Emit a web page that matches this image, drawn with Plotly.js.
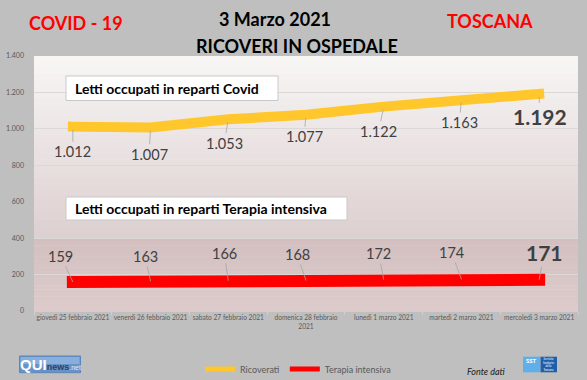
<!DOCTYPE html>
<html>
<head>
<meta charset="utf-8">
<script src="https://cdn.plot.ly/plotly-3.0.1.min.js"></script>
<style>
  html, body { margin: 0; padding: 0; background: #bfbfbf; }
  #chart { width: 587px; height: 380px; }
</style>
</head>
<body>
<div id="chart"></div>
<script>
// ---------- DATA ----------
const categories = ['giovedì 25 febbraio 2021', 'venerdì 26 febbraio 2021', 'sabato 27 febbraio 2021',
  'domenica 28 febbraio 2021', 'lunedì 1 marzo 2021', 'martedì 2 marzo 2021', 'mercoledì 3 marzo 2021'];
const tickLabels = ['giovedì 25 febbraio 2021', 'venerdì 26 febbraio 2021', 'sabato 27 febbraio 2021',
  'domenica 28 febbraio<br>2021', 'lunedì 1 marzo 2021', 'martedì 2 marzo 2021', 'mercoledì 3 marzo 2021'];
const ricoverati = [1012, 1007, 1053, 1077, 1122, 1163, 1192];
const terapiaIntensiva = [159, 163, 166, 168, 172, 174, 171];
const seriesNames = ['Ricoverati', 'Terapia intensiva'];
const yTickValues = [0, 200, 400, 600, 800, 1000, 1200, 1400];

// ---------- LAYOUT HELPERS (positions / styles) ----------
const L = 34, R = 578, T = 56, B = 311;
const fx = p => (p - L) / (R - L);
const fy = p => (B - p) / (B - T);
const fmt = v => String(v).replace(/\B(?=(\d{3})+(?!\d))/g, '.');

const ricOffsets = [[0, 25], [-1.5, 26.5], [-4, 24], [-2, 22], [-5, 24.5], [-2, 23.5], [0.5, 23]];
const tiOffsets = [[-12, -26], [-5.5, -25], [-4, -27.5], [-9, -26], [-5, -26], [-10, -27], [5, -27]];

const FONT = 'Lato, "Open Sans", sans-serif';

const traces = [
  {
    type: 'scatter', mode: 'lines', name: seriesNames[0],
    x: categories, y: ricoverati,
    line: { color: '#FFC72C', width: 10 }, hoverinfo: 'skip'
  },
  {
    type: 'scatter', mode: 'lines', name: seriesNames[1],
    x: categories, y: terapiaIntensiva,
    line: { color: '#FF0000', width: 12 }, hoverinfo: 'skip'
  }
];

// background gradient bands of the plot area
function lerpColor(a, b, t) {
  const pa = [1, 3, 5].map(i => parseInt(a.substr(i, 2), 16));
  const pb = [1, 3, 5].map(i => parseInt(b.substr(i, 2), 16));
  return 'rgb(' + pa.map((v, i) => Math.round(v + (pb[i] - v) * t)).join(',') + ')';
}
const shapes = [];
function bands(y0, y1, c0, c1, n) {
  for (let i = 0; i < n; i++) {
    const a = y0 + (y1 - y0) * i / n, b = y0 + (y1 - y0) * (i + 1) / n;
    shapes.push({ type: 'rect', xref: 'paper', yref: 'y', x0: 0, x1: 1, y0: a, y1: b + (y1 > y0 ? 2 : -2),
      fillcolor: lerpColor(c0, c1, (i + 0.5) / n), line: { width: 0 }, layer: 'below' });
  }
}
bands(1400, 400, '#f8f6f6', '#ddcfcf', 30);
bands(400, 0, '#d3bfbf', '#ddcbcb', 20);

// text boxes
shapes.push({ type: 'rect', xref: 'paper', yref: 'paper', x0: fx(66), x1: fx(278), y0: fy(100.5), y1: fy(76),
  fillcolor: '#ffffff', line: { color: '#c8c8c8', width: 1 } });
shapes.push({ type: 'rect', xref: 'paper', yref: 'paper', x0: fx(66), x1: fx(347), y0: fy(220), y1: fy(197),
  fillcolor: '#ffffff', line: { color: '#c8c8c8', width: 1 } });

// logos
shapes.push({ type: 'rect', xref: 'paper', yref: 'paper', x0: fx(19.5), x1: fx(80.5), y0: fy(372.7), y1: fy(356),
  fillcolor: '#6893c8', line: { color: '#5b84ba', width: 1 } });
shapes.push({ type: 'rect', xref: 'paper', yref: 'paper', x0: fx(20.5), x1: fx(79.5), y0: fy(364), y1: fy(357),
  fillcolor: '#88aedb', line: { width: 0 } });
shapes.push({ type: 'rect', xref: 'paper', yref: 'paper', x0: fx(523), x1: fx(540), y0: fy(372.3), y1: fy(356.7),
  fillcolor: '#5fb0ea', line: { width: 0 } });
shapes.push({ type: 'rect', xref: 'paper', yref: 'paper', x0: fx(540.5), x1: fx(557), y0: fy(372.3), y1: fy(356.7),
  fillcolor: '#1f5ea9', line: { width: 0 } });

const annotations = [];
function pap(text, x, y, font, extra) {
  annotations.push(Object.assign({ xref: 'paper', yref: 'paper', x: fx(x), y: fy(y), text: text,
    showarrow: false, xanchor: 'center', yanchor: 'middle', font: font }, extra || {}));
}
pap('<b>COVID - 19</b>', 76, 23, { family: FONT, size: 18, color: '#FF0000' });
pap('<b>TOSCANA</b>', 490, 21, { family: FONT, size: 18, color: '#FF0000' });
pap('<b>3 Marzo 2021</b>', 275, 18.5, { family: FONT, size: 18, color: '#000000' });
pap('<b>RICOVERI IN OSPEDALE</b>', 297, 46.5, { family: FONT, size: 18, color: '#000000' });
pap('<b>Letti occupati in reparti Covid</b>', 73, 88.5, { family: FONT, size: 14, color: '#000000' }, { xanchor: 'left' });
pap('<b>Letti occupati in reparti Terapia intensiva</b>', 73, 208.5, { family: FONT, size: 14, color: '#000000' }, { xanchor: 'left' });
pap('<i>Fonte dati</i>', 486.5, 371, { family: FONT, size: 9, color: '#1a1a1a' });
pap('<b>QUI</b><b><span style="color:#34405a;font-size:9px">news</span></b><span style="font-size:7px;color:#e3ecf7">.net</span>',
  50, 364.5, { family: '"Liberation Sans Narrow", "Liberation Sans", sans-serif', size: 15, color: '#ffffff' });
pap('<b>SST</b>', 531.5, 360.5, { family: FONT, size: 6, color: '#ffffff' });
pap('Servizio<br>Sanitario<br>della<br>Toscana', 548.8, 364.5, { family: FONT, size: 2.8, color: '#ffffff' });

// data labels with leader lines
function dataLabels(values, offsets, standoff) {
  values.forEach((v, i) => {
    const last = i === values.length - 1;
    annotations.push({
      xref: 'x', yref: 'y', x: categories[i], y: v, text: last ? '<b>' + fmt(v) + '</b>' : fmt(v),
      showarrow: true, arrowhead: 0, arrowwidth: 0.8, arrowcolor: '#a6a6a6', standoff: standoff,
      ax: offsets[i][0], ay: offsets[i][1],
      font: { family: FONT, size: last ? 21 : 14.5, color: '#404040' }
    });
  });
}
dataLabels(ricoverati, ricOffsets, 3);
dataLabels(terapiaIntensiva, tiOffsets, 0);

const layout = {
  width: 587, height: 380,
  margin: { l: L, r: 587 - R, t: T, b: 380 - B, pad: 0, autoexpand: false },
  paper_bgcolor: '#bfbfbf',
  plot_bgcolor: '#f0eaea',
  separators: ',.',
  showlegend: true,
  legend: {
    orientation: 'h', x: fx(200), xanchor: 'left', y: fy(369), yanchor: 'middle',
    font: { family: FONT, size: 9, color: '#595959' },
    itemsizing: 'constant', itemwidth: 30, bgcolor: 'rgba(0,0,0,0)', traceorder: 'normal'
  },
  xaxis: {
    type: 'category', range: [-0.5, 6.5], fixedrange: true,
    tickvals: categories, ticktext: tickLabels,
    tickson: 'boundaries', ticks: 'outside', ticklen: 3, tickcolor: '#cfcfcf',
    showline: true, linecolor: '#cfcfcf', linewidth: 1, showgrid: false,
    tickfont: { family: FONT, size: 6.6, color: '#595959' }, tickangle: 0
  },
  yaxis: {
    range: [0, 1400], tickvals: yTickValues, tickformat: ',d', fixedrange: true,
    showgrid: true, gridcolor: '#dcd8d8', gridwidth: 1, zeroline: false,
    showline: false, ticks: '', ticklabelstandoff: 9,
    tickfont: { family: FONT, size: 7, color: '#595959' }
  },
  shapes: shapes,
  annotations: annotations
};

Plotly.newPlot('chart', traces, layout, { staticPlot: true, displayModeBar: false }).then(gd => {
  gd.querySelectorAll('.scatterlayer .js-line').forEach(p => {
    p.style.strokeLinecap = 'square';
  });
});
</script>
</body>
</html>
